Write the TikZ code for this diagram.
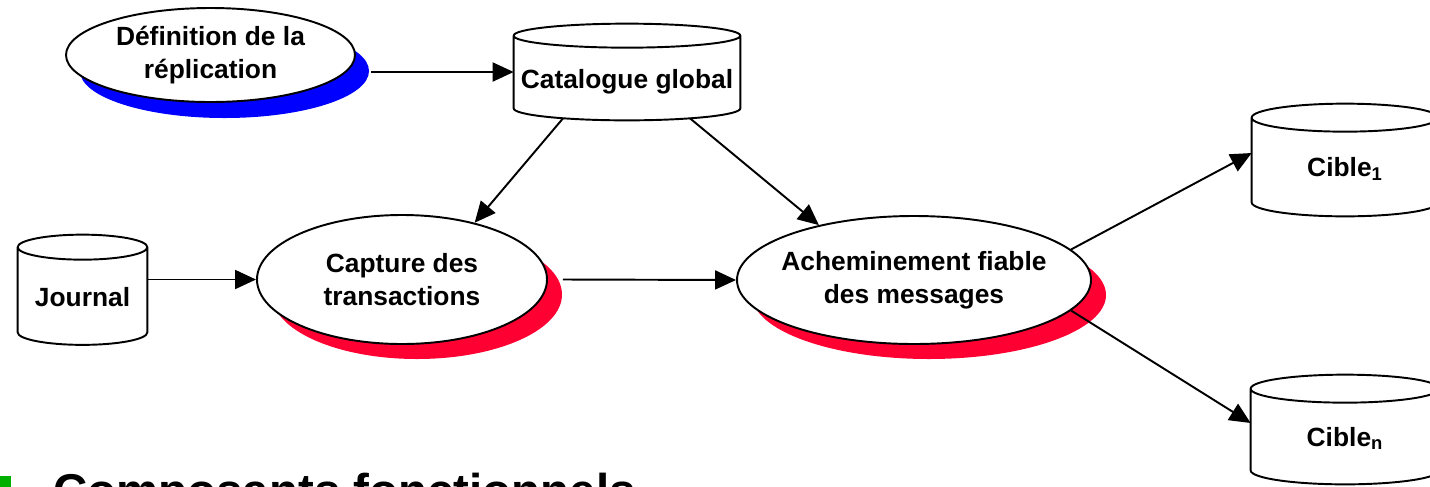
\documentclass[tikz,border=0pt]{standalone}
\usepackage{fontspec}
\setmainfont{Liberation Sans}
\usetikzlibrary{arrows.meta,shapes.geometric,shadows,calc}

\definecolor{shred}{RGB}{255,0,51}
\definecolor{shblue}{RGB}{0,0,255}
\definecolor{bulgreen}{RGB}{0,176,0}

\tikzset{
  lbl/.style={font=\fontsize{15}{18.5}\selectfont\bfseries, align=center},
  proc/.style={ellipse, draw, line width=1.1pt, fill=white, inner sep=-0.6cm, lbl},
  % corps du cylindre = le noeud, de l'axe du haut a l'axe du bas
  base/.style={rectangle, inner sep=0pt, text height=0.66cm, text depth=0pt,
    lbl, append after command={\pgfextra{
    \draw[line width=1.1pt] let \p1=(\tikzlastnode.north west),
      \p2=(\tikzlastnode.south east), \n1={(\x2-\x1)/2} in
      (\p1) -- (\x1,\y2) arc[start angle=180, end angle=360,
        x radius=\n1, y radius=#1] -- (\x2,\y1)
      (\x1,\y1) arc[start angle=180, end angle=-180,
        x radius=\n1, y radius=#1];}}},
  base/.default=0.25cm,
  arr/.style={-{Triangle[length=0.42cm,width=0.38cm]}, line width=1.1pt},
  redsh/.style={drop shadow={shadow xshift=0.3cm, shadow yshift=-0.3cm,
    fill=shred, opacity=1}},
  bluesh/.style={drop shadow={shadow xshift=0.28cm, shadow yshift=-0.32cm,
    fill=shblue, opacity=1}},
}

\begin{document}
\begin{tikzpicture}
  \useasboundingbox (0,0) rectangle (28.6,-9.72);

  % sources
  \node[proc, bluesh, minimum width=5.78cm, minimum height=1.88cm]
    (defrep) at (4.21,-1.10) {Définition de la\\réplication};
  \node[base=0.24cm, minimum width=4.52cm, minimum height=1.44cm]
    (catalog) at (12.54,-1.44) {Catalogue global};
  \node[base=0.25cm, minimum width=2.58cm, minimum height=1.69cm]
    (journal) at (1.65,-5.795) {Journal};

  % traitements
  \node[proc, redsh, minimum width=5.8cm, minimum height=2.58cm]
    (capture) at (8.04,-5.59) {Capture des\\transactions};
  \node[proc, redsh, minimum width=7.08cm, minimum height=2.56cm]
    (achem) at (18.28,-5.60) {Acheminement fiable\\des messages};

  % cibles
  \node[base=0.28cm, minimum width=3.72cm, minimum height=1.68cm]
    (cible1) at (26.9,-3.2) {Cible\textsubscript{1}};
  \node[base=0.28cm, minimum width=3.76cm, minimum height=1.62cm]
    (ciblen) at (26.9,-8.59) {Cible\textsubscript{n}};

  % fleches
  \draw[arr] ([xshift=0.3cm]defrep.east |- catalog.west) -- (catalog.west);
  \draw[arr] ([xshift=-1.28cm,yshift=-0.2cm]catalog.south) -- (capture.38);
  \draw[arr] ([xshift=1.26cm,yshift=-0.2cm]catalog.south) -- (achem.150);
  \draw[arr] (journal.east |- capture.west) -- (capture.west);
  \draw[arr] ([xshift=0.3cm]capture.east) -- (achem.west);
  \draw[arr] (achem.11) -- ([yshift=0.14cm]cible1.west);
  \draw[arr] (achem.-11) -- ([yshift=0.13cm]ciblen.west);

  % titre
  \node[fill=bulgreen, inner sep=0pt, minimum size=0.34cm, anchor=north west]
    (puce) at (-0.12,-9.52) {};
  \node[anchor=base west, font=\fontsize{27}{30}\selectfont\bfseries]
    (titre) at (0.94,-10.14) {Composants fonctionnels};
\end{tikzpicture}
\end{document}
